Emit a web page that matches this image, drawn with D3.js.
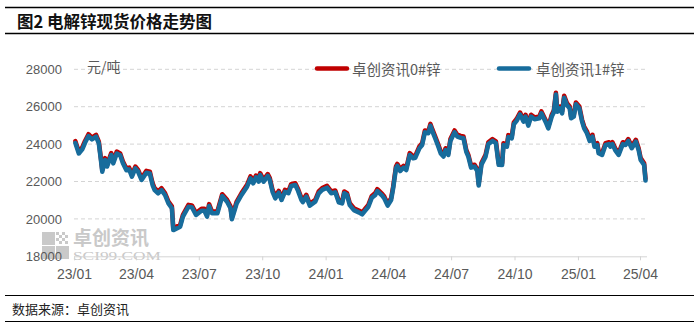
<!DOCTYPE html>
<html>
<head>
<meta charset="utf-8">
<script src="https://cdn.jsdelivr.net/npm/d3@7"></script>
<style>
  body { margin: 0; background: #fff; }
  svg { display: block; }
</style>
</head>
<body>
<svg id="chart" width="699" height="326"></svg>
<script>
// Spot zinc prices, yuan/ton
const dates = [
  "2023-01-03","2023-01-08","2023-01-13","2023-01-17","2023-01-22","2023-01-27","2023-02-02","2023-02-06","2023-02-09","2023-02-11",
  "2023-02-15","2023-02-18","2023-02-24","2023-02-27","2023-03-04","2023-03-09","2023-03-13","2023-03-18","2023-03-22","2023-03-26",
  "2023-03-31","2023-04-04","2023-04-09","2023-04-16","2023-04-21","2023-04-25","2023-04-28","2023-05-03","2023-05-08","2023-05-13",
  "2023-05-18","2023-05-23","2023-05-25","2023-05-30","2023-06-04","2023-06-08","2023-06-16","2023-06-21","2023-06-27","2023-07-05",
  "2023-07-09","2023-07-13","2023-07-16","2023-07-20","2023-07-28","2023-08-04","2023-08-11","2023-08-16","2023-08-18","2023-08-25",
  "2023-09-01","2023-09-09","2023-09-14","2023-09-18","2023-09-22","2023-09-26","2023-09-28","2023-10-03","2023-10-09","2023-10-12",
  "2023-10-16","2023-10-20","2023-10-25","2023-10-29","2023-11-03","2023-11-08","2023-11-12","2023-11-18","2023-11-22","2023-11-27",
  "2023-11-29","2023-12-04","2023-12-09","2023-12-17","2023-12-22","2023-12-27","2024-01-03","2024-01-09","2024-01-15","2024-01-20",
  "2024-01-25","2024-01-28","2024-02-01","2024-02-05","2024-02-11","2024-02-18","2024-02-23","2024-02-28","2024-03-03","2024-03-08",
  "2024-03-13","2024-03-16","2024-03-23","2024-03-26","2024-03-31","2024-04-05","2024-04-08","2024-04-12","2024-04-14","2024-04-18",
  "2024-04-23","2024-04-27","2024-05-02","2024-05-07","2024-05-10","2024-05-16","2024-05-20","2024-05-24","2024-05-29","2024-06-01",
  "2024-06-04","2024-06-08","2024-06-12","2024-06-16","2024-06-20","2024-06-23","2024-06-27","2024-06-30","2024-07-06","2024-07-10",
  "2024-07-15","2024-07-19","2024-07-23","2024-07-26","2024-07-30","2024-08-04","2024-08-08","2024-08-10","2024-08-14","2024-08-20",
  "2024-08-24","2024-08-30","2024-09-04","2024-09-08","2024-09-13","2024-09-15","2024-09-20","2024-09-22","2024-09-27","2024-09-30",
  "2024-10-04","2024-10-09","2024-10-14","2024-10-17","2024-10-21","2024-10-25","2024-10-30","2024-11-06","2024-11-09","2024-11-16",
  "2024-11-19","2024-11-24","2024-11-27","2024-11-30","2024-12-02","2024-12-06","2024-12-09","2024-12-12","2024-12-16","2024-12-20",
  "2024-12-22","2024-12-26","2024-12-29","2025-01-03","2025-01-07","2025-01-10","2025-01-14","2025-01-18","2025-01-22","2025-01-25",
  "2025-01-29","2025-01-31","2025-02-05","2025-02-10","2025-02-15","2025-02-17","2025-02-20","2025-02-24","2025-03-01","2025-03-07",
  "2025-03-11","2025-03-15","2025-03-20","2025-03-26","2025-03-30","2025-04-02","2025-04-07","2025-04-09"
];

// 卓创资讯0#锌
const zinc0 = [
  24160,23600,23820,24170,24530,24350,24500,24140,23250,22620,
  23250,22900,23520,23070,23600,23500,23070,22700,22740,22360,
  22800,22620,22180,22570,22530,21910,21640,21470,21640,21380,
  20930,20670,19500,19590,19680,20220,20750,20720,20310,20540,
  20540,20220,20790,20400,20400,21320,21020,20670,20080,20930,
  21380,21820,22270,22000,22320,22090,22450,22090,22400,22180,
  21550,21200,21500,21110,21550,21470,21860,21910,21600,21100,
  21000,21290,20810,21020,21470,21650,21770,21470,21520,20990,
  20930,21470,21380,20840,20570,20450,20340,20570,20750,21230,
  21380,21590,21340,21200,20810,21110,21740,22800,22940,22660,
  22840,22710,23520,23340,23370,23870,24050,24730,24680,25080,
  24770,24400,24010,23600,23430,23780,23520,24270,24730,24500,
  24440,24410,23690,23430,22840,22900,22660,21880,22990,23430,
  24100,24270,24150,22990,22980,24050,23960,24480,24410,25160,
  25340,25690,25300,25570,25090,25570,25430,25480,25750,25210,
  24940,25570,25800,26750,25830,26010,25740,26580,26190,26010,
  25480,25570,26230,26010,25300,24940,24680,24270,24500,23960,
  24050,23610,23520,24050,24100,23960,24100,23780,23520,24100,
  24050,24270,23880,24230,23780,23250,22980,22150
];

// 卓创资讯1#锌
const zinc1 = [
  24060,23500,23720,24070,24430,24250,24400,24040,23150,22520,
  23150,22800,23420,22970,23500,23400,22970,22600,22640,22260,
  22700,22520,22080,22470,22430,21810,21540,21370,21540,21280,
  20830,20570,19400,19490,19580,20120,20650,20620,20210,20440,
  20440,20120,20690,20300,20300,21220,20920,20570,19980,20830,
  21280,21720,22170,21900,22220,21990,22350,21990,22300,22080,
  21450,21100,21400,21010,21450,21370,21760,21810,21500,21000,
  20900,21190,20710,20920,21370,21550,21670,21370,21420,20890,
  20830,21370,21280,20740,20470,20350,20240,20470,20650,21130,
  21280,21490,21240,21100,20710,21010,21640,22700,22840,22560,
  22740,22610,23420,23240,23270,23770,23950,24630,24580,24980,
  24670,24300,23910,23500,23330,23680,23420,24170,24630,24400,
  24340,24310,23590,23330,22740,22800,22560,21780,22890,23330,
  24000,24170,24050,22890,22880,23950,23860,24380,24310,25060,
  25240,25590,25200,25470,24990,25470,25330,25380,25650,25110,
  24840,25470,25700,26650,25730,25910,25640,26480,26090,25910,
  25380,25470,26130,25910,25200,24840,24580,24170,24400,23860,
  23950,23510,23420,23950,24000,23860,24000,23680,23420,24000,
  23950,24170,23780,24130,23680,23150,22880,22050
];

const seriesNames = ["卓创资讯0#锌", "卓创资讯1#锌"];
const yTicks = [18000, 20000, 22000, 24000, 26000, 28000];
const xTickDates = ["2023-01-01","2023-04-01","2023-07-01","2023-10-01","2024-01-01",
                    "2024-04-01","2024-07-01","2024-10-01","2025-01-01","2025-04-01"];
const xTickLabels = ["23/01","23/04","23/07","23/10","24/01","24/04","24/07","24/10","25/01","25/04"];

const parse = d3.timeParse("%Y-%m-%d");
const svg = d3.select("#chart");

const plot = { left: 74, right: 647, top: 69.3, bottom: 256.3 };
const x = d3.scaleTime()
  .domain([parse("2023-01-01"), parse("2025-04-01")])
  .range([74, 640]);
const y = d3.scaleLinear().domain([18000, 28000]).range([plot.bottom, plot.top]);

const cjk = "'Noto Sans CJK SC', 'Noto Sans', sans-serif";
const textGray = "#595959";

// Header and footer rules
const rule = (yy, w) => svg.append("line")
  .attr("x1", 5).attr("x2", 694).attr("y1", yy).attr("y2", yy)
  .attr("stroke", "#000").attr("stroke-width", w);
rule(7.5, 1.5);
rule(33.5, 1.5);
rule(295.5, 1.2);
rule(321.5, 1.2);

svg.append("text")
  .attr("x", 17).attr("y", 21)
  .attr("dominant-baseline", "central")
  .style("font-family", cjk).style("font-size", "16.5px").style("font-weight", "bold")
  .attr("fill", "#111")
  .text("图2 电解锌现货价格走势图");

svg.append("text")
  .attr("x", 12).attr("y", 308)
  .attr("dominant-baseline", "central")
  .style("font-family", cjk).style("font-size", "13px")
  .attr("fill", "#222")
  .text("数据来源：卓创资讯");

// Watermark: logo blocks plus a two-line brand text
const wm = svg.append("g").attr("fill", "#c9c9c9");
wm.append("rect").attr("x", 42).attr("y", 232).attr("width", 13).attr("height", 13);
wm.append("rect").attr("x", 42).attr("y", 246).attr("width", 13).attr("height", 13);
wm.append("rect").attr("x", 56).attr("y", 246).attr("width", 13).attr("height", 13);
[[56,232],[62,232],[59,235],[65,235],[56,238],[62,238],[59,241],[65,241]].forEach(([px, py]) =>
  wm.append("rect").attr("x", px).attr("y", py).attr("width", 3).attr("height", 3));
const wmText = wm.append("text").attr("x", 73).attr("y", 245);
wmText.append("tspan")
  .attr("x", 73).attr("y", 245)
  .style("font-family", cjk).style("font-size", "19px").style("font-weight", "bold")
  .text("卓创资讯");
wmText.append("tspan")
  .attr("x", 73).attr("y", 259.5)
  .attr("textLength", 88).attr("lengthAdjust", "spacingAndGlyphs")
  .style("font-family", "'Liberation Serif', serif").style("font-size", "11.5px")
  .text("SCI99.COM");

// Gridlines
svg.append("g")
  .selectAll("line")
  .data(yTicks.filter(t => t > 18000))
  .join("line")
  .attr("x1", plot.left).attr("x2", plot.right)
  .attr("y1", d => y(d)).attr("y2", d => y(d))
  .attr("stroke", "#d4d4d4").attr("stroke-width", 1)
  .attr("stroke-dasharray", "4,3");

// Y axis labels
const yAxis = svg.append("g")
  .attr("transform", `translate(${plot.left},0)`)
  .call(d3.axisLeft(y).tickValues(yTicks).tickSize(0).tickPadding(12).tickFormat(d3.format("d")));
yAxis.select(".domain").remove();
yAxis.selectAll("text")
  .style("font-family", "'Liberation Sans', Arial, sans-serif")
  .style("font-size", "13px").attr("fill", textGray);

// X axis
const xAxis = svg.append("g")
  .attr("transform", `translate(0,${plot.bottom})`)
  .call(d3.axisBottom(x)
    .tickValues(xTickDates.map(parse))
    .tickFormat((d, i) => xTickLabels[i])
    .tickSizeInner(4).tickSizeOuter(0).tickPadding(9));
xAxis.select(".domain")
  .attr("d", `M${plot.left},0.5H${plot.right}`)
  .attr("stroke", "#d4d4d4");
xAxis.selectAll(".tick line").attr("stroke", "#d4d4d4");
xAxis.selectAll("text")
  .style("font-family", "'Liberation Sans', Arial, sans-serif")
  .style("font-size", "14px").attr("fill", textGray);

// Unit label
svg.append("text")
  .attr("x", 87).attr("y", 66)
  .attr("dominant-baseline", "central")
  .style("font-family", cjk).style("font-size", "14px")
  .attr("fill", textGray)
  .text("元/吨");

// Price lines
const colors = ["#C00000", "#176C9C"];
const rows = dates.map((d, i) => ({ date: parse(d), v0: zinc0[i], v1: zinc1[i] }));
const lineGen = key => d3.line().x(d => x(d.date)).y(d => y(d[key]));
["v0", "v1"].forEach((key, i) => {
  svg.append("path")
    .datum(rows)
    .attr("fill", "none")
    .attr("stroke", colors[i])
    .attr("stroke-width", 4.5)
    .attr("stroke-linejoin", "round")
    .attr("stroke-linecap", "round")
    .attr("d", lineGen(key));
});

// Legend
const legendItems = [{ x: 315, tx: 352 }, { x: 497, tx: 536 }];
legendItems.forEach((it, i) => {
  svg.append("line")
    .attr("x1", it.x + 2).attr("x2", it.x + 32)
    .attr("y1", 68.5).attr("y2", 68.5)
    .attr("stroke", colors[i]).attr("stroke-width", 4.5)
    .attr("stroke-linecap", "round");
  svg.append("text")
    .attr("x", it.tx).attr("y", 68)
    .attr("dominant-baseline", "central")
    .style("font-family", cjk).style("font-size", "14.5px")
    .attr("fill", textGray)
    .text(seriesNames[i]);
});
</script>
</body>
</html>
